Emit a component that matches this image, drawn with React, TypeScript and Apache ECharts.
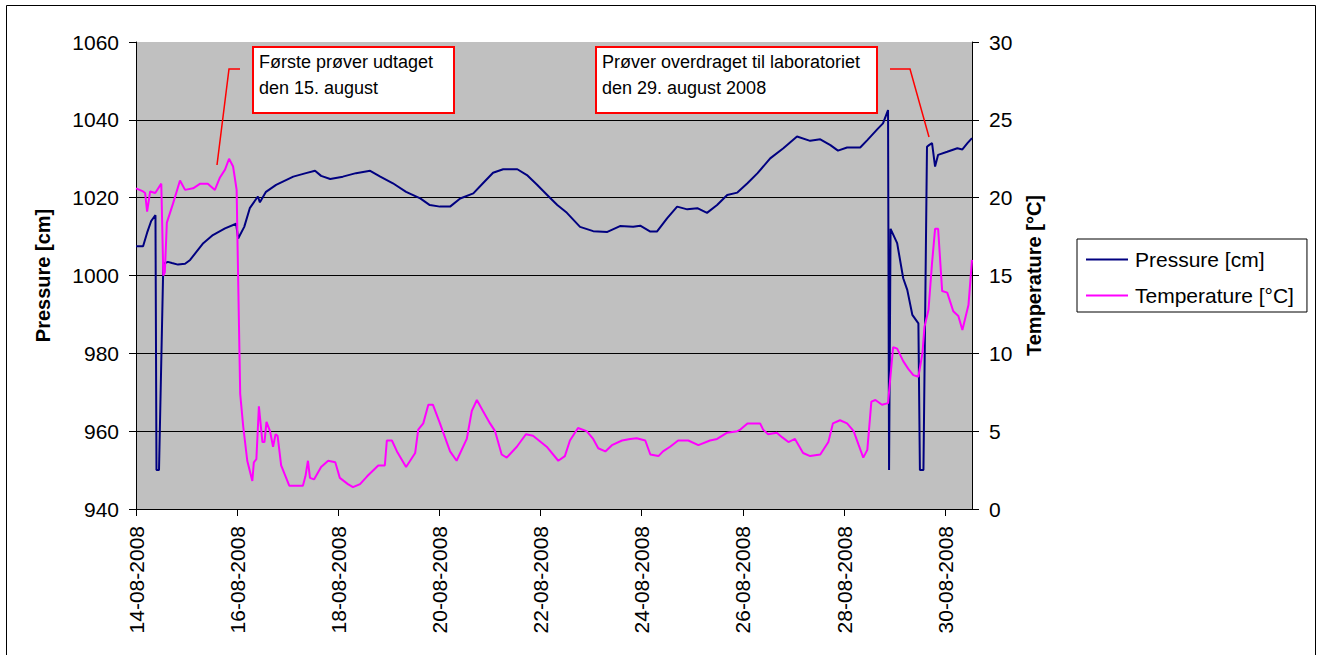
import React, { useEffect, useRef } from "react";
import * as echarts from "echarts";

// Time in days after 14-08-2008 00:00
const pressureDays = [0.00,0.14,0.22,0.30,0.385,0.405,0.455,0.54,0.63,0.71,0.83,0.97,1.07,1.19,1.33,1.52,1.76,1.98,2.02,2.14,2.25,2.41,2.45,2.57,2.77,3.11,3.36,3.54,3.66,3.84,4.09,4.35,4.63,4.83,5.08,5.34,5.62,5.81,6.01,6.21,6.41,6.67,6.86,7.06,7.26,7.54,7.73,7.93,8.13,8.33,8.52,8.78,9.04,9.32,9.57,9.83,9.97,10.17,10.30,10.50,10.70,10.90,11.10,11.29,11.49,11.69,11.89,12.09,12.29,12.54,12.80,13.07,13.33,13.53,13.73,13.88,14.06,14.32,14.46,14.66,14.77,14.87,14.89,14.92,15.05,15.17,15.25,15.35,15.47,15.50,15.57,15.64,15.68,15.74,15.80,15.86,16.04,16.24,16.34,16.44,16.53];
const pressureValues = [1007.5,1007.5,1011,1014,1015.5,950,950,1003,1003.5,1003.2,1002.8,1003,1004,1006,1008.3,1010.4,1012.1,1013.3,1009.5,1012.5,1017.3,1020.3,1018.8,1021.5,1023.3,1025.4,1026.3,1026.9,1025.6,1024.8,1025.4,1026.3,1026.9,1025.4,1023.7,1021.5,1019.8,1018.1,1017.7,1017.7,1019.8,1021.1,1023.7,1026.4,1027.3,1027.3,1025.8,1023.3,1020.7,1018.1,1016.1,1012.5,1011.4,1011.2,1012.7,1012.5,1012.8,1011.3,1011.3,1014.7,1017.7,1017.0,1017.3,1016.1,1018.1,1020.7,1021.3,1023.7,1026.3,1030.1,1032.7,1035.7,1034.6,1035.0,1033.5,1032.1,1032.9,1032.9,1034.8,1037.6,1039.1,1042.5,950,1012,1008.3,999.3,996.3,989.9,987.7,950,950,1033.1,1033.5,1034,1028,1031,1031.8,1032.7,1032.4,1034,1035.3];

const tempDays = [0.00,0.14,0.18,0.22,0.28,0.38,0.50,0.54,0.57,0.61,0.73,0.87,0.97,1.13,1.27,1.42,1.56,1.66,1.76,1.84,1.92,1.99,2.01,2.06,2.12,2.20,2.30,2.33,2.38,2.43,2.50,2.54,2.58,2.65,2.71,2.76,2.80,2.87,3.03,3.30,3.35,3.40,3.44,3.52,3.66,3.80,3.94,4.03,4.19,4.29,4.43,4.57,4.79,4.92,4.96,5.06,5.16,5.34,5.52,5.58,5.68,5.78,5.87,6.01,6.21,6.34,6.54,6.64,6.74,6.86,7.00,7.10,7.23,7.33,7.53,7.71,7.85,8.12,8.35,8.48,8.58,8.74,8.91,9.04,9.14,9.28,9.41,9.61,9.77,9.90,10.07,10.17,10.33,10.42,10.56,10.72,10.92,11.12,11.35,11.49,11.69,11.89,11.95,12.09,12.34,12.40,12.50,12.67,12.78,12.90,13.03,13.19,13.33,13.53,13.69,13.78,13.92,14.06,14.19,14.29,14.38,14.46,14.54,14.62,14.75,14.87,14.97,15.05,15.17,15.27,15.37,15.47,15.55,15.59,15.67,15.74,15.80,15.86,15.94,16.04,16.16,16.26,16.34,16.46,16.53];
const tempValues = [20.6,20.4,20.3,19.1,20.4,20.3,20.9,15.0,15.2,18.4,19.6,21.1,20.5,20.6,20.9,20.9,20.5,21.3,21.8,22.5,22.0,20.5,16.6,7.4,5.3,3.1,1.8,3.0,3.2,6.6,4.3,4.3,5.6,5.0,4.0,4.8,4.7,2.8,1.5,1.5,2.1,3.1,2.0,1.9,2.7,3.1,3.0,2.0,1.6,1.4,1.6,2.1,2.8,2.8,4.4,4.4,3.7,2.7,3.6,5.1,5.5,6.7,6.7,5.5,3.7,3.1,4.5,6.3,7.0,6.3,5.5,5.0,3.5,3.3,4.0,4.8,4.7,4.0,3.1,3.4,4.4,5.2,5.0,4.5,3.9,3.7,4.1,4.4,4.5,4.55,4.4,3.5,3.4,3.7,4.0,4.4,4.4,4.1,4.4,4.5,4.9,5.0,5.1,5.5,5.5,5.1,4.8,4.9,4.6,4.3,4.5,3.6,3.4,3.5,4.3,5.5,5.7,5.5,5.0,4.1,3.3,3.8,6.9,7.0,6.7,6.8,10.4,10.3,9.5,9.0,8.6,8.5,10.0,11.7,12.8,15.8,18.0,18.0,14.0,13.9,12.7,12.4,11.5,13.1,16.0];

const xTickDays = [0, 2, 4, 6, 8, 10, 12, 14, 16];
const xMax = 16.53;
const seriesNames = ["Pressure [cm]", "Temperature [°C]"];
const note1 = "Første prøver udtaget\nden 15. august";
const note2 = "Prøver overdraget til laboratoriet\nden 29. august 2008";

const FONT = '"Liberation Sans", Arial, Helvetica, sans-serif';

function dayLabel(v: number): string {
  if (Math.abs(v - Math.round(v)) > 1e-6 || Math.round(v) % 2 !== 0) return "";
  const d = 14 + Math.round(v);
  return (d < 10 ? "0" : "") + d + "-08-2008";
}

function zip(a: number[], b: number[]) {
  return a.map((x, i) => [x, b[i]]);
}

export default function App() {
  const ref = useRef<HTMLDivElement>(null);
  useEffect(() => {
    const chart = echarts.init(ref.current!, null, { renderer: "svg" });
    const axisText = { fontSize: 21, color: "#000", fontFamily: FONT };
    chart.setOption({
      animation: false,
      backgroundColor: "#ffffff",
      textStyle: { fontFamily: FONT },
      grid: {
        left: 136, top: 42, width: 836, height: 467,
        show: true, backgroundColor: "#C0C0C0", borderWidth: 0,
      },
      legend: {
        orient: "vertical",
        left: 1077, top: 239,
        padding: [10, 13, 6, 9],
        itemGap: 15,
        itemWidth: 42, itemHeight: 2,
        icon: "rect",
        borderColor: "#000", borderWidth: 1, borderRadius: 0,
        backgroundColor: "#fff",
        textStyle: { fontSize: 21, color: "#000", fontFamily: FONT, padding: [0, 0, 0, 2] },
        data: seriesNames,
      },
      xAxis: {
        type: "value",
        min: 0, max: xMax, interval: 2,
        axisLine: { show: true, onZero: false, lineStyle: { color: "#000", width: 1 } },
        axisTick: { show: true, length: 7, lineStyle: { color: "#000" }, customValues: xTickDays },
        axisLabel: {
          ...axisText, rotate: 90, margin: 17,
          formatter: (v: number) => dayLabel(v),
          customValues: xTickDays,
        },
        splitLine: { show: false },
      },
      yAxis: [
        {
          type: "value", position: "left",
          min: 940, max: 1060, interval: 20,
          axisLine: { show: true, lineStyle: { color: "#000", width: 1 } },
          axisTick: { show: true, length: 7, lineStyle: { color: "#000" } },
          axisLabel: { ...axisText, margin: 17, formatter: (v: number) => String(v) },
          splitLine: { show: true, showMaxLine: false, showMinLine: false, lineStyle: { color: "#000", width: 1 } },
          name: seriesNames[0],
          nameLocation: "middle", nameRotate: 90, nameGap: 83,
          nameTextStyle: { fontSize: 20, fontWeight: "bold", color: "#000", fontFamily: FONT },
        },
        {
          type: "value", position: "right",
          min: 0, max: 30, interval: 5,
          axisLine: { show: true, lineStyle: { color: "#000", width: 1 } },
          axisTick: { show: true, length: 7, lineStyle: { color: "#000" } },
          axisLabel: { ...axisText, margin: 17, formatter: (v: number) => String(v) },
          splitLine: { show: false },
          name: seriesNames[1],
          nameLocation: "middle", nameRotate: 90, nameGap: 52,
          nameTextStyle: { fontSize: 20, fontWeight: "bold", color: "#000", fontFamily: FONT },
        },
      ],
      series: [
        {
          name: seriesNames[0], type: "line", yAxisIndex: 0,
          data: zip(pressureDays, pressureValues),
          showSymbol: false, symbol: "none",
          lineStyle: { color: "#000080", width: 2 },
          itemStyle: { color: "#000080" },
        },
        {
          name: seriesNames[1], type: "line", yAxisIndex: 1,
          data: zip(tempDays, tempValues),
          showSymbol: false, symbol: "none",
          lineStyle: { color: "#FF00FF", width: 2 },
          itemStyle: { color: "#FF00FF" },
        },
      ],
      graphic: [
        {
          type: "rect", silent: true,
          shape: { x: 6.5, y: 5.5, width: 1309, height: 700 },
          style: { fill: "none", stroke: "#000", lineWidth: 1 },
        },
        {
          type: "polyline", silent: true, z: 100,
          shape: { points: [[240, 69], [229, 69], [217, 165]] },
          style: { stroke: "#FF0000", lineWidth: 1.5, fill: "none" },
        },
        {
          type: "polyline", silent: true, z: 100,
          shape: { points: [[890, 69], [910, 69], [929, 137]] },
          style: { stroke: "#FF0000", lineWidth: 1.5, fill: "none" },
        },
        {
          type: "rect", silent: true, z: 100,
          shape: { x: 253, y: 47, width: 201, height: 66 },
          style: { fill: "#fff", stroke: "#FF0000", lineWidth: 2 },
        },
        {
          type: "text", silent: true, z: 101, x: 259, y: 49,
          style: { text: note1, fontSize: 18, fontFamily: FONT, fill: "#000", lineHeight: 26, verticalAlign: "top", align: "left" },
        },
        {
          type: "rect", silent: true, z: 100,
          shape: { x: 596, y: 47, width: 281, height: 66 },
          style: { fill: "#fff", stroke: "#FF0000", lineWidth: 2 },
        },
        {
          type: "text", silent: true, z: 101, x: 602, y: 49,
          style: { text: note2, fontSize: 18, fontFamily: FONT, fill: "#000", lineHeight: 26, verticalAlign: "top", align: "left" },
        },
      ],
    });
    return () => chart.dispose();
  }, []);
  return (
    <div
      ref={ref}
      style={{ position: "absolute", left: 0, top: 0, width: 1322, height: 655, background: "#fff" }}
    />
  );
}
